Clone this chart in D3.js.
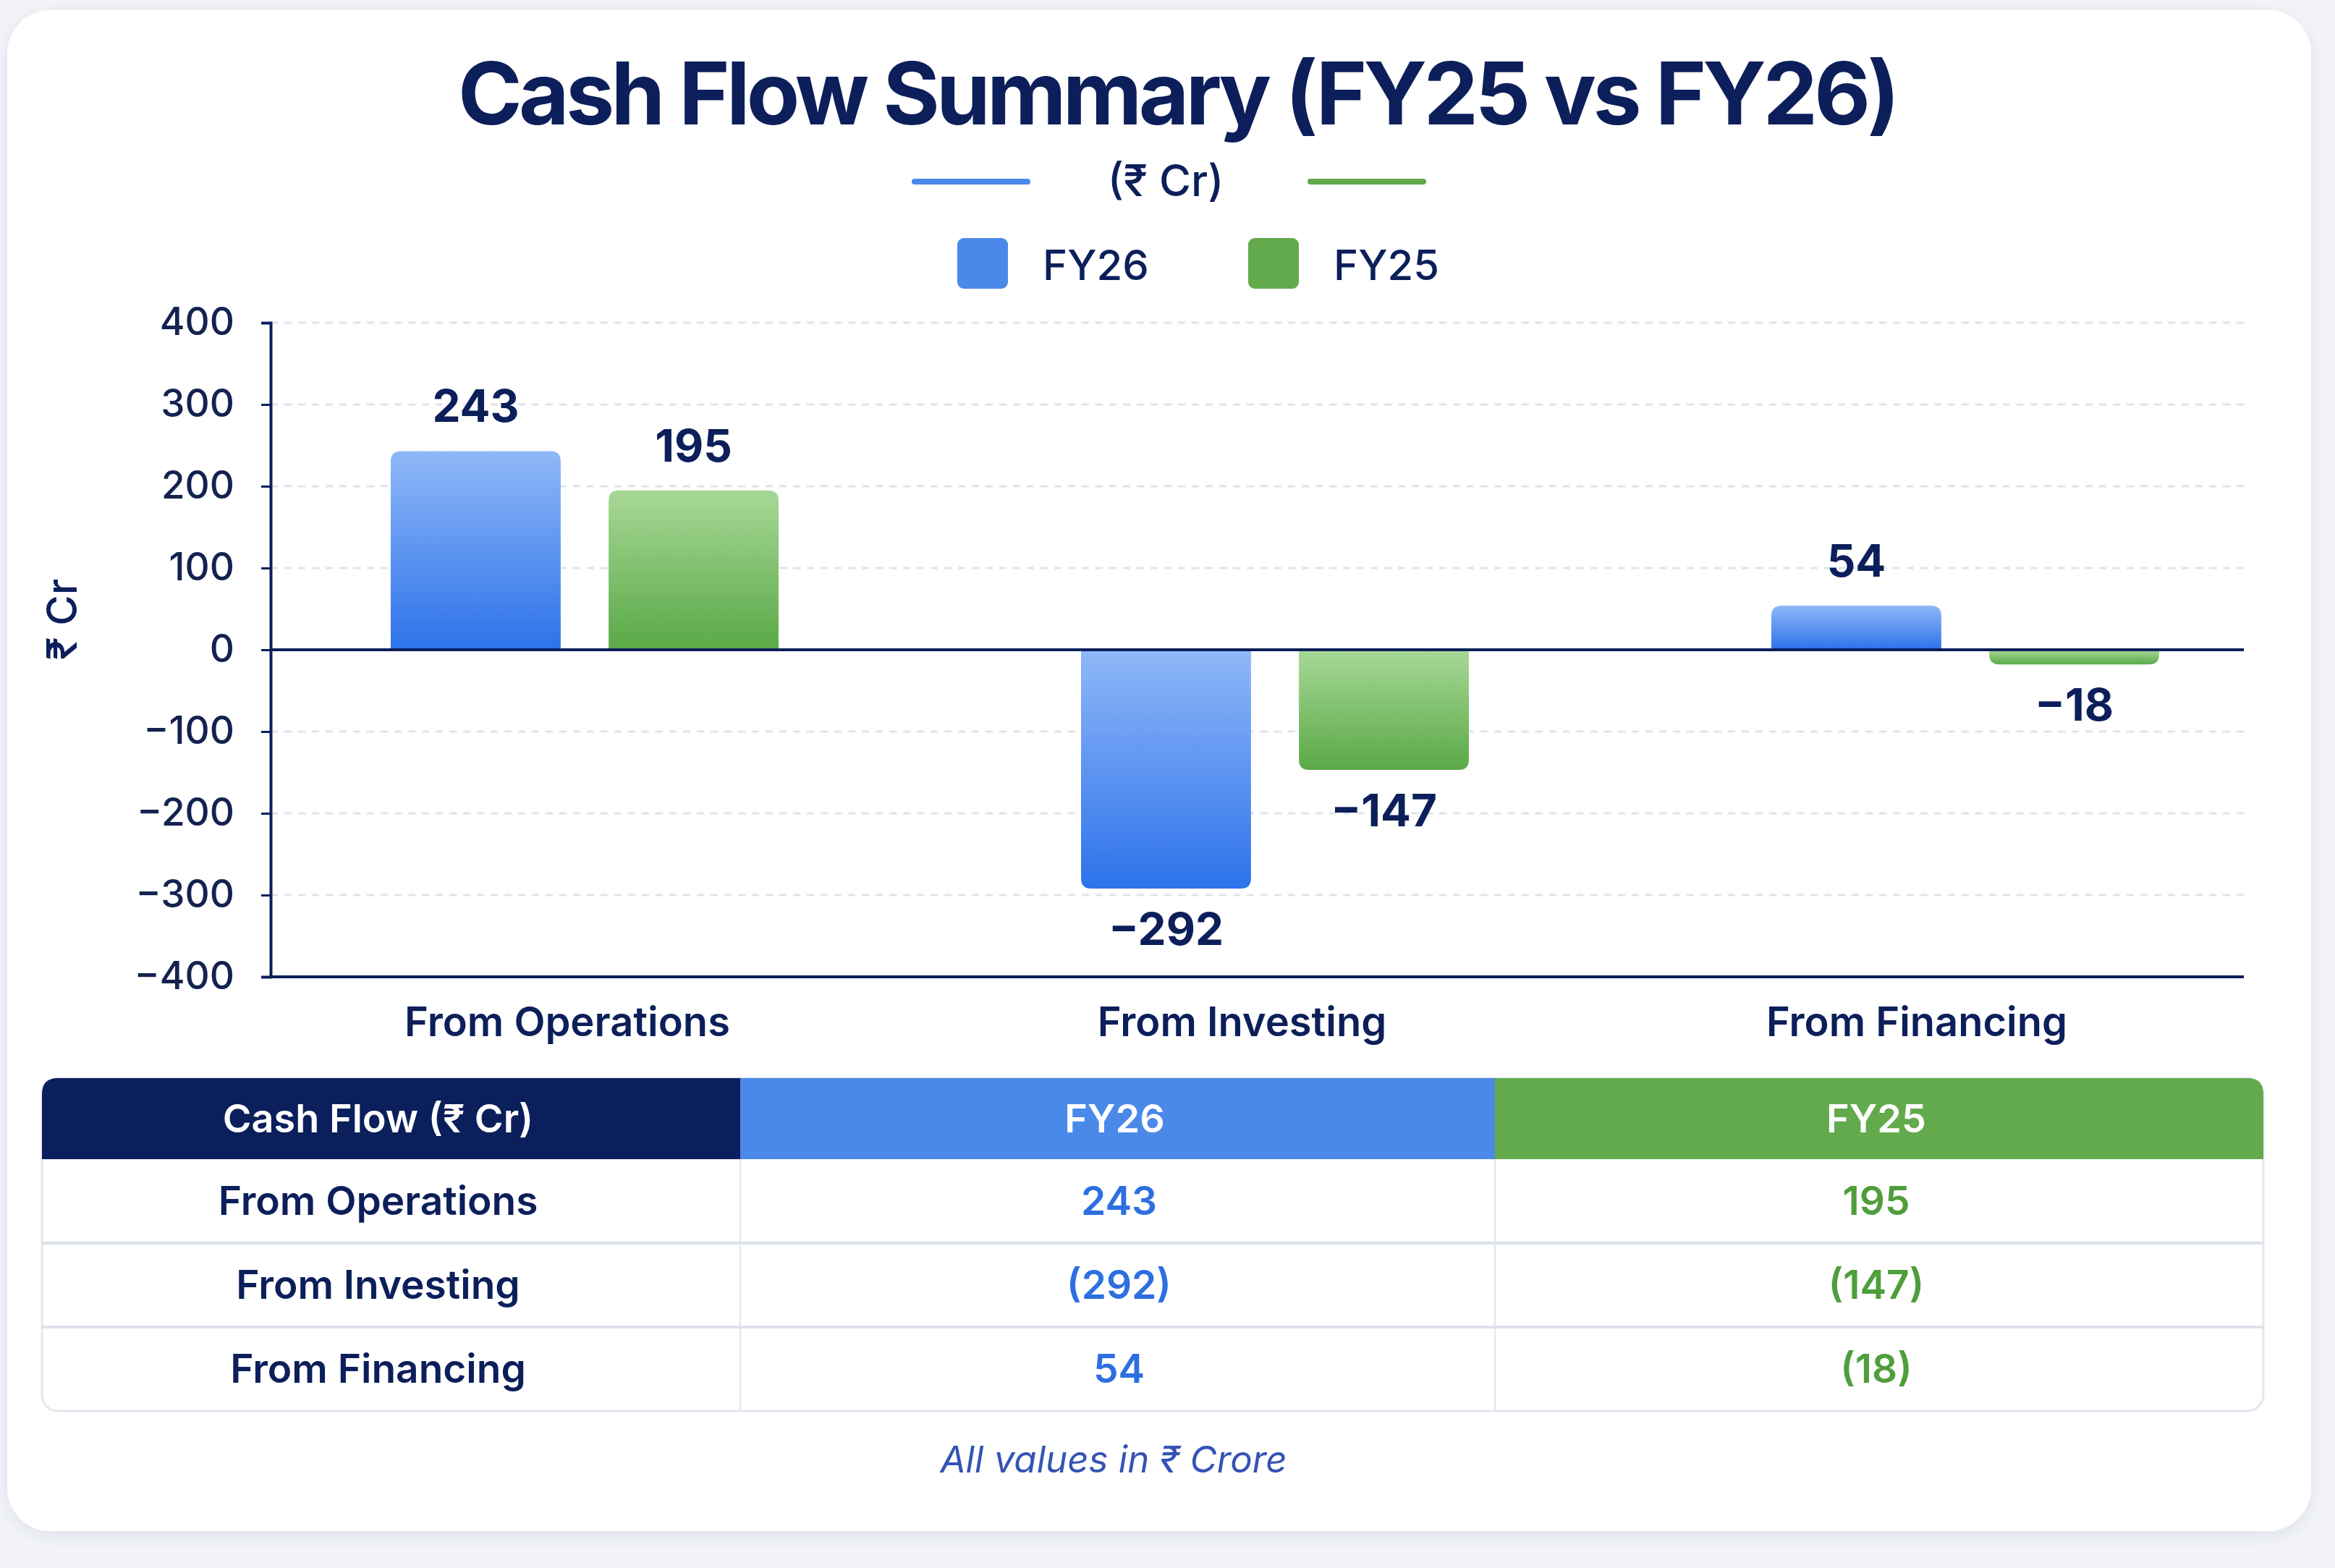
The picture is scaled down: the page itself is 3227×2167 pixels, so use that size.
<!DOCTYPE html>
<html>
<head>
<meta charset="utf-8">
<title>Cash Flow Summary</title>
<script src="https://d3js.org/d3.v7.min.js"></script>
<style>
 body { margin: 0; background: #f2f4f8; }
 svg text { font-family: Inter, "Noto Sans", "DejaVu Sans", sans-serif; }
 .tick text { fill: #14224f; font-size: 53px; font-weight: 500; }
</style>
</head>
<body>
<div id="chart"></div>
<script>
// data
var categories = ["From Operations", "From Investing", "From Financing"];
var seriesNames = ["FY26", "FY25"];
var fy26 = [243, -292, 54];
var fy25 = [195, -147, -18];
var yTicks = [400, 300, 200, 100, 0, -100, -200, -300, -400];

var W = 3227, H = 2167;
var navy = "#0c1f5a";
var blue = "#4a89e8", green = "#62aa4b";
var minus = function(d) { return d < 0 ? "\u2212" + Math.abs(d) : String(d); };
var paren = function(d) { return d < 0 ? "(" + Math.abs(d) + ")" : String(d); };

var svg = d3.select("#chart").append("svg")
  .attr("width", W).attr("height", H);

var defs = svg.append("defs");
var shadow = defs.append("filter").attr("id", "shadow")
  .attr("x", "-5%").attr("y", "-5%").attr("width", "110%").attr("height", "110%");
shadow.append("feDropShadow").attr("dx", 0).attr("dy", 6).attr("stdDeviation", 12)
  .attr("flood-color", "#1b2a55").attr("flood-opacity", 0.08);

function grad(id, top, bottom) {
  var g = defs.append("linearGradient").attr("id", id)
    .attr("x1", 0).attr("y1", 0).attr("x2", 0).attr("y2", 1);
  g.append("stop").attr("offset", "0%").attr("stop-color", top);
  g.append("stop").attr("offset", "100%").attr("stop-color", bottom);
}
grad("gBlue", "#8fb8f8", "#2d72ea");
grad("gGreen", "#a7d896", "#5aa947");

// card
svg.append("rect").attr("x", 10).attr("y", 14).attr("width", 3184).attr("height", 2102)
  .attr("rx", 60).attr("fill", "#fff").attr("filter", "url(#shadow)");

// title, spaced out to the reference width
var title = svg.append("text").attr("x", 1627).attr("y", 172)
  .attr("text-anchor", "middle").attr("font-size", 120).attr("font-weight", 700)
  .attr("fill", navy).text("Cash Flow Summary (FY25 vs FY26)");
var tw = title.node().getComputedTextLength();
var tn = title.text().length;
title.attr("letter-spacing", ((1986 - tw) / tn) + "px");

// subtitle with lines
svg.append("line").attr("x1", 1264).attr("x2", 1420).attr("y1", 251).attr("y2", 251)
  .attr("stroke", blue).attr("stroke-width", 8).attr("stroke-linecap", "round");
svg.append("line").attr("x1", 1811).attr("x2", 1967).attr("y1", 251).attr("y2", 251)
  .attr("stroke", green).attr("stroke-width", 8).attr("stroke-linecap", "round");
svg.append("text").attr("x", 1611).attr("y", 271).attr("text-anchor", "middle")
  .attr("font-size", 60).attr("font-weight", 500).attr("fill", navy).text("(\u20B9 Cr)");

// legend
var legendX = [1323, 1725];
var legendCol = [blue, green];
seriesNames.forEach(function(s, i) {
  svg.append("rect").attr("x", legendX[i]).attr("y", 329).attr("width", 70).attr("height", 70)
    .attr("rx", 9).attr("fill", legendCol[i]);
  svg.append("text").attr("x", legendX[i] + 118).attr("y", 387)
    .attr("font-size", 58).attr("font-weight", 500).attr("fill", navy).text(s);
});

// scales
var plotL = 374, plotR = 3101;
var y = d3.scaleLinear().domain([-400, 400]).range([1350, 446]);
var xBars = d3.scalePoint().domain(categories).range([808, 2716]);
var xLabels = d3.scalePoint().domain(categories).range([784, 2649]);
var xSeries = d3.scaleBand().domain(seriesNames).range([-268, 268]).paddingInner(0.22);

// grid
svg.append("g").selectAll("line")
  .data(yTicks.filter(function(d) { return d !== 0 && d !== -400; }))
  .join("line")
  .attr("x1", plotL).attr("x2", plotR)
  .attr("y1", function(d) { return y(d); }).attr("y2", function(d) { return y(d); })
  .attr("stroke", "#dfe3eb").attr("stroke-width", 3).attr("stroke-dasharray", "10 9");

// y axis
var yAxis = svg.append("g").attr("transform", "translate(" + plotL + ",0)")
  .call(d3.axisLeft(y).tickValues(yTicks).tickFormat(minus).tickSize(13).tickPadding(37));
yAxis.select(".domain").attr("stroke", navy).attr("stroke-width", 4);
yAxis.selectAll(".tick line").attr("stroke", navy).attr("stroke-width", 3);

svg.append("text").attr("transform", "translate(106,856) rotate(-90)")
  .attr("text-anchor", "middle").attr("font-size", 58).attr("font-weight", 500)
  .attr("fill", navy).text("\u20B9 Cr");

// bars, rounded at the far end
function barPath(x0, w, v) {
  var y0 = y(0), y1 = y(v), r = 14;
  var s = v >= 0 ? 1 : -1;
  return "M" + x0 + "," + y0 + "V" + (y1 + s * r) + "Q" + x0 + "," + y1 + " " + (x0 + r) + "," + y1 +
    "H" + (x0 + w - r) + "Q" + (x0 + w) + "," + y1 + " " + (x0 + w) + "," + (y1 + s * r) + "V" + y0 + "Z";
}

var rows = [];
categories.forEach(function(c, i) {
  rows.push({ cat: c, s: "FY26", v: fy26[i], fill: "url(#gBlue)" });
  rows.push({ cat: c, s: "FY25", v: fy25[i], fill: "url(#gGreen)" });
});

svg.append("g").selectAll("path").data(rows).join("path")
  .attr("d", function(d) { return barPath(xBars(d.cat) + xSeries(d.s), xSeries.bandwidth(), d.v); })
  .attr("fill", function(d) { return d.fill; });

svg.append("g").selectAll("text").data(rows).join("text")
  .attr("x", function(d) { return xBars(d.cat) + xSeries(d.s) + xSeries.bandwidth() / 2; })
  .attr("y", function(d) { return d.v >= 0 ? y(d.v) - 40 : y(d.v) + 78; })
  .attr("text-anchor", "middle").attr("font-size", 62).attr("font-weight", 700)
  .attr("fill", navy).text(function(d) { return minus(d.v); });

// zero line and bottom axis
svg.append("line").attr("x1", plotL).attr("x2", plotR).attr("y1", y(0)).attr("y2", y(0))
  .attr("stroke", navy).attr("stroke-width", 4);
svg.append("line").attr("x1", plotL - 2).attr("x2", plotR).attr("y1", y(-400)).attr("y2", y(-400))
  .attr("stroke", navy).attr("stroke-width", 4);

// category labels
svg.append("g").selectAll("text").data(categories).join("text")
  .attr("x", function(d) { return xLabels(d); }).attr("y", 1432)
  .attr("text-anchor", "middle").attr("font-size", 56).attr("font-weight", 600)
  .attr("fill", navy).text(function(d) { return d; });

// table
var colX = [58, 1023, 2066, 3128];
var headY = 1490, headH = 112, rowH = 116;
var headers = ["Cash Flow (\u20B9 Cr)", "FY26", "FY25"];
var headFill = ["#0b1f5c", blue, green];
var valueCol = [navy, "#2d6fe0", "#4f9e3b"];
var tableBottom = headY + headH + rowH * categories.length;

svg.append("rect").attr("x", colX[0]).attr("y", headY).attr("width", colX[3] - colX[0])
  .attr("height", tableBottom - headY).attr("rx", 22).attr("fill", "#fff")
  .attr("stroke", "#e2e6ee").attr("stroke-width", 3);

headers.forEach(function(h, i) {
  var x0 = colX[i], x1 = colX[i + 1], r = 22;
  var p;
  if (i === 0) {
    p = "M" + x0 + "," + (headY + headH) + "V" + (headY + r) + "Q" + x0 + "," + headY + " " + (x0 + r) + "," + headY + "H" + x1 + "V" + (headY + headH) + "Z";
  } else if (i === 2) {
    p = "M" + x0 + "," + (headY + headH) + "V" + headY + "H" + (x1 - r) + "Q" + x1 + "," + headY + " " + x1 + "," + (headY + r) + "V" + (headY + headH) + "Z";
  } else {
    p = "M" + x0 + "," + (headY + headH) + "V" + headY + "H" + x1 + "V" + (headY + headH) + "Z";
  }
  svg.append("path").attr("d", p).attr("fill", headFill[i]);
  svg.append("text").attr("x", (x0 + x1) / 2 - (i === 0 ? 18 : 4)).attr("y", headY + headH / 2 + 19)
    .attr("text-anchor", "middle").attr("font-size", 54).attr("font-weight", 600)
    .attr("fill", "#fff").text(h);
});

// column separators in body
[colX[1], colX[2]].forEach(function(x) {
  svg.append("line").attr("x1", x).attr("x2", x).attr("y1", headY + headH).attr("y2", tableBottom)
    .attr("stroke", "#e4e8f0").attr("stroke-width", 2.5);
});

categories.forEach(function(c, i) {
  var top = headY + headH + rowH * i;
  if (i > 0) {
    svg.append("line").attr("x1", colX[0]).attr("x2", colX[3]).attr("y1", top).attr("y2", top)
      .attr("stroke", "#dde2ea").attr("stroke-width", 4);
  }
  var cells = [c, paren(fy26[i]), paren(fy25[i])];
  cells.forEach(function(t, j) {
    svg.append("text").attr("x", (colX[j] + colX[j + 1]) / 2 - (j === 0 ? 18 : j === 1 ? -2 : 4))
      .attr("y", top + rowH / 2 + 19).attr("text-anchor", "middle")
      .attr("font-size", 55).attr("font-weight", 600).attr("fill", valueCol[j]).text(t);
  });
});

// footer
svg.append("text").attr("x", 1539).attr("y", 2035).attr("text-anchor", "middle")
  .attr("font-size", 51).attr("font-style", "italic").attr("fill", "#3553b5")
  .text("All values in \u20B9 Crore");
</script>
</body>
</html>
